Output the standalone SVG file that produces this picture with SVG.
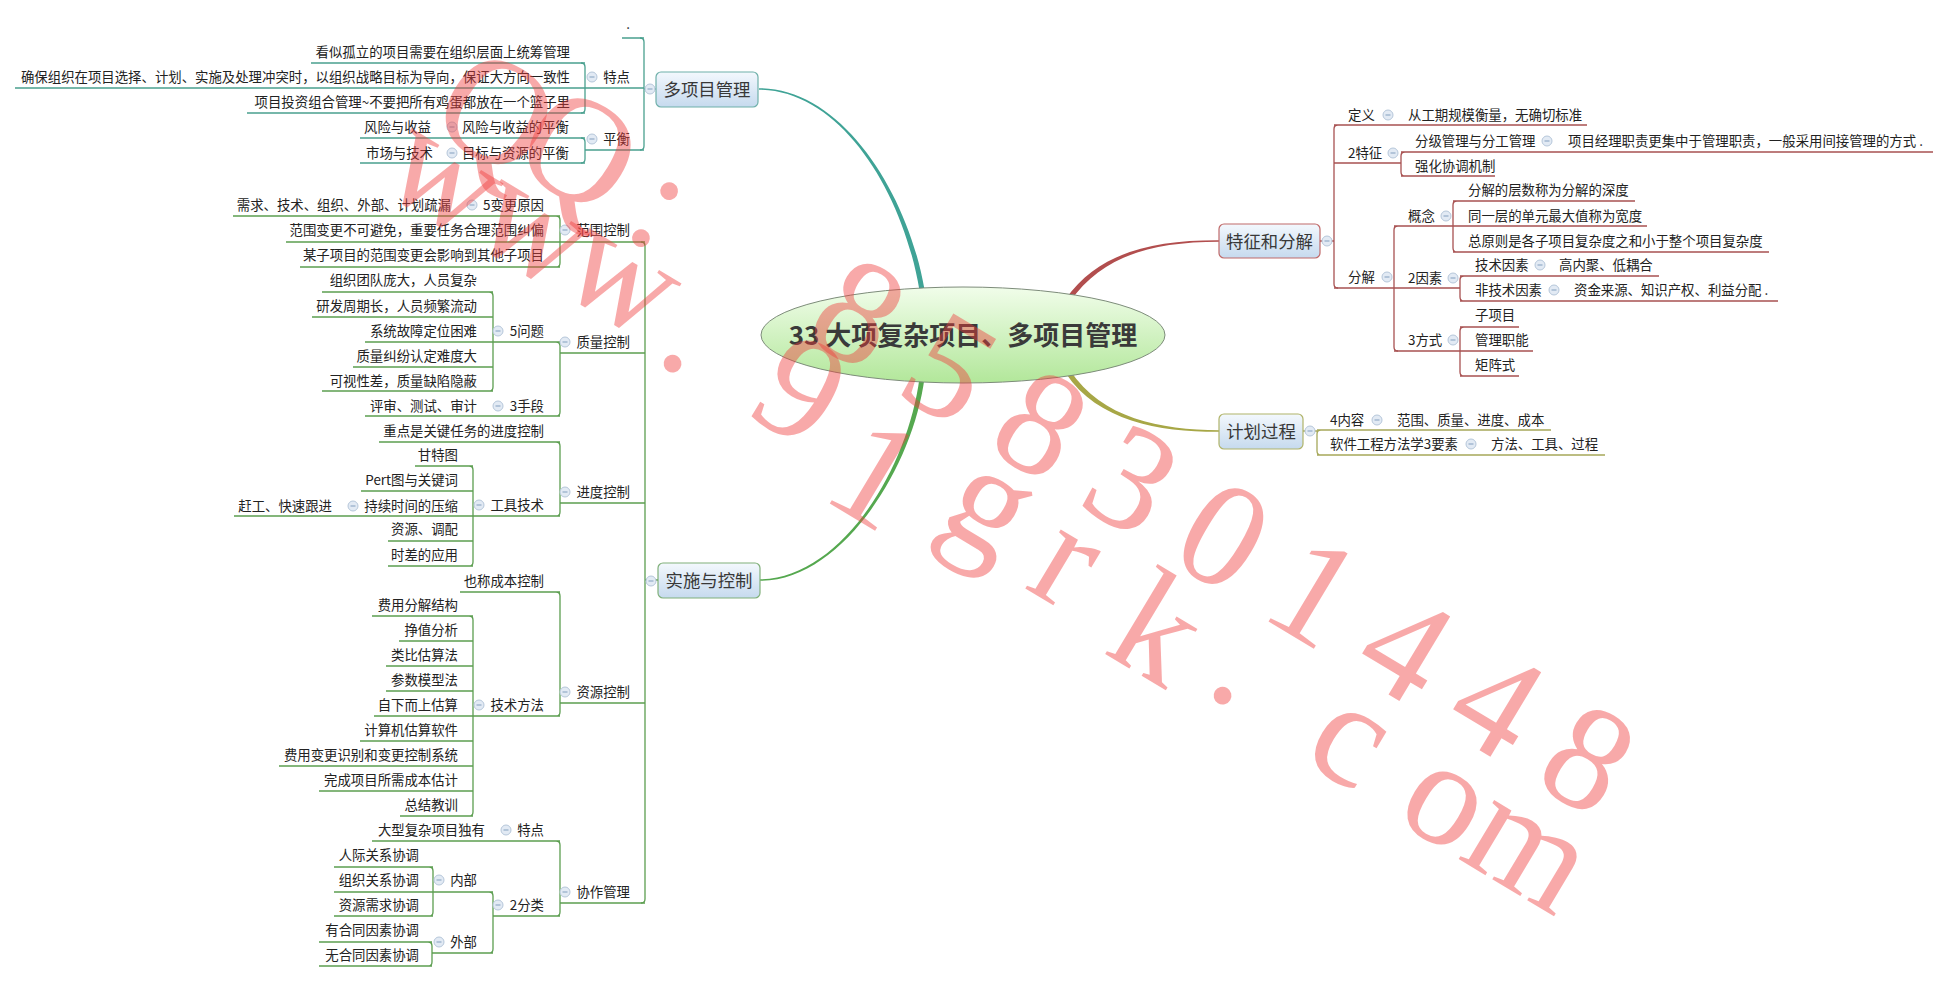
<svg xmlns="http://www.w3.org/2000/svg" width="1949" height="982" viewBox="0 0 1949 982">
<defs>
<linearGradient id="gBox" x1="0" y1="0" x2="0" y2="1"><stop offset="0" stop-color="#f3f8fd"/><stop offset="1" stop-color="#c6daee"/></linearGradient>
<linearGradient id="gRoot" x1="0" y1="0" x2="0" y2="1"><stop offset="0" stop-color="#f1fdea"/><stop offset="1" stop-color="#b2e79a"/></linearGradient>
<g id="ic"><circle r="5" fill="#e2eaf4" stroke="#b6c7da" stroke-width="1"/><line x1="-2.5" y1="0" x2="2.5" y2="0" stroke="#93abc6" stroke-width="1.2"/></g>
</defs>
<style>
text{font-family:"Noto Sans CJK SC","Liberation Sans",sans-serif;fill:#222;font-size:13.4px}
.e{text-anchor:end}
.m{font-size:17.4px;fill:#383838;text-anchor:middle}
.r{font-size:26px;font-weight:bold;fill:#3a3a3a;text-anchor:middle}
.box{fill:url(#gBox);stroke-width:1.2}
.wm{font-family:"Liberation Serif",serif;font-size:150px;fill:#f03c3c;fill-opacity:0.44}
.ln{fill:none;stroke-width:1.3}
</style>
<rect width="1949" height="982" fill="#ffffff"/>

<g id="connectors">
  <path d="M759,88.25 C840,87.8 907.2,189.6 924.5,289.6 L919.5,290.4 C902.8,190.4 840,90.2 759,89.75 Z" fill="#3fa396"/>
  <path d="M760,579.25 C840,578.6 907.8,469.7 919.5,377.7 L924.5,378.3 C912.2,470.3 840,581.4 760,580.75 Z" fill="#55a84f"/>
  <path d="M1065.96,298.55 C1098,253.5 1150,240 1219,240.25 L1219,241.75 C1150,242 1102,256.5 1070.04,301.45 Z" fill="#b24e4e"/>
  <path d="M1070.08,370.61 C1102,418.6 1160,430 1219,430.25 L1219,431.75 C1160,432 1098,421.4 1065.92,373.39 Z" fill="#a7a746"/>

  <g class="ln" stroke="#4aa08f">
    <path d="M622,38 H644 M311,63 H585 M15,88 H644 M247,113 H585 M360,138 H585 M360,163 H585 M585,150 H644 M644,89 H656"/>
    <path d="M581,63 Q585,63 585,67 V109 Q585,113 581,113"/>
    <path d="M581,138 Q585,138 585,142 V159 Q585,163 581,163"/>
    <path d="M640,38 Q644,38 644,42 V146 Q644,150 640,150"/>
  </g>

  <g class="ln" stroke="#5c9e50">
    <path d="M641,242 Q645,242 645,246 V899 Q645,903 641,903 M645,580 H658"/>
    <path d="M286,242 H645 M560,353 H645 M560,503 H645 M560,703 H645 M560,903 H645"/>
    <path d="M556,216 Q560,216 560,220 V263 Q560,267 556,267 M233,216 H560 M300,267 H560"/>
    <path d="M556,342 Q560,342 560,346 V412 Q560,416 556,416 M365,342 H560 M365,416 H560"/>
    <path d="M489,292 Q493,292 493,296 V387 Q493,391 489,391 M322,292 H493 M312,317 H493 M353,367 H493 M322,391 H493"/>
    <path d="M556,442 Q560,442 560,446 V512 Q560,516 556,516 M379,442 H560 M234,516 H560"/>
    <path d="M469,466 Q473,466 473,470 V562 Q473,566 469,566 M415,466 H473 M361,491 H473 M388,541 H473 M388,566 H473"/>
    <path d="M556,592 Q560,592 560,596 V712 Q560,716 556,716 M460,592 H560 M374,716 H560"/>
    <path d="M469,616 Q473,616 473,620 V812 Q473,816 469,816 M372,616 H473 M399,641 H473 M386,666 H473 M386,691 H473 M360,741 H473 M279,766 H473 M319,791 H473 M400,816 H473"/>
    <path d="M556,841 Q560,841 560,845 V912 Q560,916 556,916 M372,841 H560 M493,916 H560"/>
    <path d="M489,892 Q493,892 493,896 V949 Q493,953 489,953 M334,892 H493 M432,953 H493"/>
    <path d="M429,867 Q433,867 433,871 V912 Q433,916 429,916 M334,867 H433 M334,916 H433"/>
    <path d="M428,942 Q432,942 432,946 V962 Q432,966 428,966 M319,942 H432 M319,966 H432"/>
  </g>

  <g class="ln" stroke="#a85252">
    <path d="M1320,241 H1334 M1338,125 Q1334,125 1334,129 V284 Q1334,288 1338,288 M1334,125 H1587 M1334,163 H1401"/>
    <path d="M1405,152 Q1401,152 1401,156 V172 Q1401,176 1405,176 M1401,152 H1933 M1401,176 H1495"/>
    <path d="M1334,288 H1460 M1398,226 Q1394,226 1394,230 V347 Q1394,351 1398,351 M1394,226 H1647"/>
    <path d="M1457,201 Q1453,201 1453,205 V248 Q1453,252 1457,252 M1453,201 H1635 M1453,252 H1769"/>
    <path d="M1464,276 Q1460,276 1460,280 V297 Q1460,301 1464,301 M1460,276 H1659 M1460,301 H1778"/>
    <path d="M1394,351 H1533 M1464,327 Q1460,327 1460,331 V372 Q1460,376 1464,376 M1460,327 H1519 M1460,376 H1519"/>
  </g>

  <g class="ln" stroke="#a6a85a">
    <path d="M1303,431 H1317 M1321,430 Q1317,430 1317,434 V451 Q1317,455 1321,455 M1317,430 H1551 M1317,455 H1605"/>
  </g>
</g>

<g id="root">
  <ellipse cx="963" cy="335" rx="202" ry="48" fill="url(#gRoot)" stroke="#7d8c7a" stroke-width="1"/>
  <text class="r" x="963" y="345">33 大项复杂项目、多项目管理</text>
</g>

<g id="n-multi">
  <rect class="box" x="656" y="72" width="102" height="35" rx="5" stroke="#6fb0aa"/>
  <text class="m" x="707" y="95.6">多项目管理</text>
  <use href="#ic" x="650" y="89"/>
</g>
<g id="n-dot"><text x="628" y="29" text-anchor="middle">.</text></g>
<g id="n-tedian"><text class="e" x="630" y="82">特点</text><use href="#ic" x="592" y="77"/></g>
<g id="n-t1"><text class="e" x="570" y="57">看似孤立的项目需要在组织层面上统筹管理</text></g>
<g id="n-t2"><text class="e" x="570" y="82">确保组织在项目选择、计划、实施及处理冲突时，以组织战略目标为导向，保证大方向一致性</text></g>
<g id="n-t3"><text class="e" x="570" y="107">项目投资组合管理~不要把所有鸡蛋都放在一个篮子里</text></g>
<g id="n-pingheng"><text class="e" x="630" y="144">平衡</text><use href="#ic" x="592" y="139"/></g>
<g id="n-p1"><text class="e" x="569" y="132">风险与收益的平衡</text><use href="#ic" x="452" y="127"/></g>
<g id="n-p1a"><text class="e" x="431" y="132">风险与收益</text></g>
<g id="n-p2"><text class="e" x="569" y="158">目标与资源的平衡</text><use href="#ic" x="452" y="153"/></g>
<g id="n-p2a"><text class="e" x="433" y="158">市场与技术</text></g>

<g id="n-impl">
  <rect class="box" x="658" y="563" width="102" height="35" rx="5" stroke="#80b07a"/>
  <text class="m" x="709" y="587">实施与控制</text>
  <use href="#ic" x="651" y="581"/>
</g>
<g id="n-scope"><text class="e" x="630" y="235">范围控制</text><use href="#ic" x="565" y="230"/></g>
<g id="n-s1"><text class="e" x="544" y="210">5变更原因</text><use href="#ic" x="472" y="205"/></g>
<g id="n-s1a"><text class="e" x="451" y="210">需求、技术、组织、外部、计划疏漏</text></g>
<g id="n-s2"><text class="e" x="544" y="235">范围变更不可避免，重要任务合理范围纠偏</text></g>
<g id="n-s3"><text class="e" x="544" y="260">某子项目的范围变更会影响到其他子项目</text></g>

<g id="n-quality"><text class="e" x="630" y="347">质量控制</text><use href="#ic" x="565" y="342"/></g>
<g id="n-q1"><text class="e" x="544" y="336">5问题</text><use href="#ic" x="498" y="331"/></g>
<g id="n-q1a"><text class="e" x="477" y="285">组织团队庞大，人员复杂</text></g>
<g id="n-q1b"><text class="e" x="477" y="311">研发周期长，人员频繁流动</text></g>
<g id="n-q1c"><text class="e" x="477" y="336">系统故障定位困难</text></g>
<g id="n-q1d"><text class="e" x="477" y="361">质量纠纷认定难度大</text></g>
<g id="n-q1e"><text class="e" x="477" y="386">可视性差，质量缺陷隐蔽</text></g>
<g id="n-q2"><text class="e" x="544" y="411">3手段</text><use href="#ic" x="498" y="406"/></g>
<g id="n-q2a"><text class="e" x="477" y="411">评审、测试、审计</text></g>

<g id="n-sched"><text class="e" x="630" y="497">进度控制</text><use href="#ic" x="565" y="492"/></g>
<g id="n-d1"><text class="e" x="544" y="436">重点是关键任务的进度控制</text></g>
<g id="n-d2"><text class="e" x="544" y="510">工具技术</text><use href="#ic" x="479" y="505"/></g>
<g id="n-d2a"><text class="e" x="458" y="460">甘特图</text></g>
<g id="n-d2b"><text class="e" x="458" y="485">Pert图与关键词</text></g>
<g id="n-d2c"><text class="e" x="458" y="511">持续时间的压缩</text><use href="#ic" x="353" y="506"/></g>
<g id="n-d2c1"><text class="e" x="332" y="511">赶工、快速跟进</text></g>
<g id="n-d2d"><text class="e" x="458" y="534">资源、调配</text></g>
<g id="n-d2e"><text class="e" x="458" y="560">时差的应用</text></g>

<g id="n-res"><text class="e" x="630" y="697">资源控制</text><use href="#ic" x="565" y="692"/></g>
<g id="n-r1"><text class="e" x="544" y="586">也称成本控制</text></g>
<g id="n-r2"><text class="e" x="544" y="710">技术方法</text><use href="#ic" x="479" y="705"/></g>
<g id="n-r2a"><text class="e" x="458" y="610">费用分解结构</text></g>
<g id="n-r2b"><text class="e" x="458" y="635">挣值分析</text></g>
<g id="n-r2c"><text class="e" x="458" y="660">类比估算法</text></g>
<g id="n-r2d"><text class="e" x="458" y="685">参数模型法</text></g>
<g id="n-r2e"><text class="e" x="458" y="710">自下而上估算</text></g>
<g id="n-r2f"><text class="e" x="458" y="735">计算机估算软件</text></g>
<g id="n-r2g"><text class="e" x="458" y="760">费用变更识别和变更控制系统</text></g>
<g id="n-r2h"><text class="e" x="458" y="785">完成项目所需成本估计</text></g>
<g id="n-r2i"><text class="e" x="458" y="810">总结教训</text></g>

<g id="n-coop"><text class="e" x="630" y="897">协作管理</text><use href="#ic" x="565" y="892"/></g>
<g id="n-c1"><text class="e" x="544" y="835">特点</text><use href="#ic" x="506" y="830"/></g>
<g id="n-c1a"><text class="e" x="485" y="835">大型复杂项目独有</text></g>
<g id="n-c2"><text class="e" x="544" y="910">2分类</text><use href="#ic" x="498" y="905"/></g>
<g id="n-c2a"><text class="e" x="477" y="885">内部</text><use href="#ic" x="439" y="880"/></g>
<g id="n-c2a1"><text class="e" x="419" y="860">人际关系协调</text></g>
<g id="n-c2a2"><text class="e" x="419" y="885">组织关系协调</text></g>
<g id="n-c2a3"><text class="e" x="419" y="910">资源需求协调</text></g>
<g id="n-c2b"><text class="e" x="477" y="947">外部</text><use href="#ic" x="439" y="942"/></g>
<g id="n-c2b1"><text class="e" x="419" y="935">有合同因素协调</text></g>
<g id="n-c2b2"><text class="e" x="419" y="960">无合同因素协调</text></g>

<g id="n-feat">
  <rect class="box" x="1219" y="224" width="101" height="34" rx="5" stroke="#c06a6a"/>
  <text class="m" x="1269.5" y="247.6">特征和分解</text>
  <use href="#ic" x="1327" y="241"/>
</g>
<g id="n-f1"><text x="1348" y="120">定义</text><use href="#ic" x="1388" y="115"/></g>
<g id="n-f1a"><text x="1408" y="120">从工期规模衡量，无确切标准</text></g>
<g id="n-f2"><text x="1348" y="158">2特征</text><use href="#ic" x="1393" y="153"/></g>
<g id="n-f2a"><text x="1415" y="146">分级管理与分工管理</text><use href="#ic" x="1547" y="141"/></g>
<g id="n-f2a1"><text x="1568" y="146">项目经理职责更集中于管理职责，一般采用间接管理的方式 .</text></g>
<g id="n-f2b"><text x="1415" y="171">强化协调机制</text></g>
<g id="n-f3"><text x="1348" y="282">分解</text><use href="#ic" x="1387" y="277"/></g>
<g id="n-f3a"><text x="1408" y="221">概念</text><use href="#ic" x="1446" y="216"/></g>
<g id="n-f3a1"><text x="1468" y="195">分解的层数称为分解的深度</text></g>
<g id="n-f3a2"><text x="1468" y="221">同一层的单元最大值称为宽度</text></g>
<g id="n-f3a3"><text x="1468" y="246">总原则是各子项目复杂度之和小于整个项目复杂度</text></g>
<g id="n-f3b"><text x="1408" y="283">2因素</text><use href="#ic" x="1453" y="278"/></g>
<g id="n-f3b1"><text x="1475" y="270">技术因素</text><use href="#ic" x="1540" y="265"/></g>
<g id="n-f3b1a"><text x="1559" y="270">高内聚、低耦合</text></g>
<g id="n-f3b2"><text x="1475" y="295">非技术因素</text><use href="#ic" x="1554" y="290"/></g>
<g id="n-f3b2a"><text x="1574" y="295">资金来源、知识产权、利益分配 .</text></g>
<g id="n-f3c"><text x="1408" y="345">3方式</text><use href="#ic" x="1453" y="340"/></g>
<g id="n-f3c1"><text x="1475" y="320">子项目</text></g>
<g id="n-f3c2"><text x="1475" y="345">管理职能</text></g>
<g id="n-f3c3"><text x="1475" y="370">矩阵式</text></g>

<g id="n-plan">
  <rect class="box" x="1219" y="414" width="84" height="35" rx="5" stroke="#b0b46a"/>
  <text class="m" x="1261" y="437.6">计划过程</text>
  <use href="#ic" x="1310" y="431"/>
</g>
<g id="n-p1x"><text x="1330" y="425">4内容</text><use href="#ic" x="1377" y="420"/></g>
<g id="n-p1xa"><text x="1397" y="425">范围、质量、进度、成本</text></g>
<g id="n-p2x"><text x="1330" y="449">软件工程方法学3要素</text><use href="#ic" x="1471" y="444"/></g>
<g id="n-p2xa"><text x="1491" y="449">方法、工具、过程</text></g>

<g id="watermark">
  <text class="wm" transform="translate(425.1,126.5) rotate(31)">Q</text>
  <text class="wm" transform="translate(508.1,164.5) rotate(31)">Q</text>
  <text class="wm" transform="translate(619.7,233.2) rotate(31)">:</text>
  <text class="wm" transform="translate(801.2,335.7) rotate(31)">8</text>
  <text class="wm" transform="translate(892.4,391.5) rotate(31)">5</text>
  <text class="wm" transform="translate(983.6,447.3) rotate(31)">8</text>
  <text class="wm" transform="translate(1074.8,503.1) rotate(31)">3</text>
  <text class="wm" transform="translate(1166,558.9) rotate(31)">0</text>
  <text class="wm" transform="translate(1257.2,614.7) rotate(31)">1</text>
  <text class="wm" transform="translate(1348.4,670.5) rotate(31)">4</text>
  <text class="wm" transform="translate(1439.6,726.3) rotate(31)">4</text>
  <text class="wm" transform="translate(1530.8,782.1) rotate(31)">8</text>
  <text class="wm" transform="translate(375.7,186.9) rotate(31)">w</text>
  <text class="wm" transform="translate(465.7,237.9) rotate(31)">w</text>
  <text class="wm" transform="translate(553.7,286.9) rotate(31)">w</text>
  <text class="wm" transform="translate(653.1,359.8) rotate(31)">.</text>
  <text class="wm" transform="translate(743.4,412.7) rotate(31)">9</text>
  <text class="wm" transform="translate(818.4,496.7) rotate(31)">1</text>
  <text class="wm" transform="translate(935.3,523.6) rotate(31)">g</text>
  <text class="wm" transform="translate(1022.7,586.9) rotate(31)">r</text>
  <text class="wm" transform="translate(1101.4,651.7) rotate(31)">k</text>
  <text class="wm" transform="translate(1203.1,691.8) rotate(31)">.</text>
  <text class="wm" transform="translate(1299.6,759.6) rotate(31)">c</text>
  <text class="wm" transform="translate(1391.9,818.4) rotate(31)">o</text>
  <text class="wm" transform="translate(1456.1,857.6) rotate(31)">m</text>
</g>
</svg>
